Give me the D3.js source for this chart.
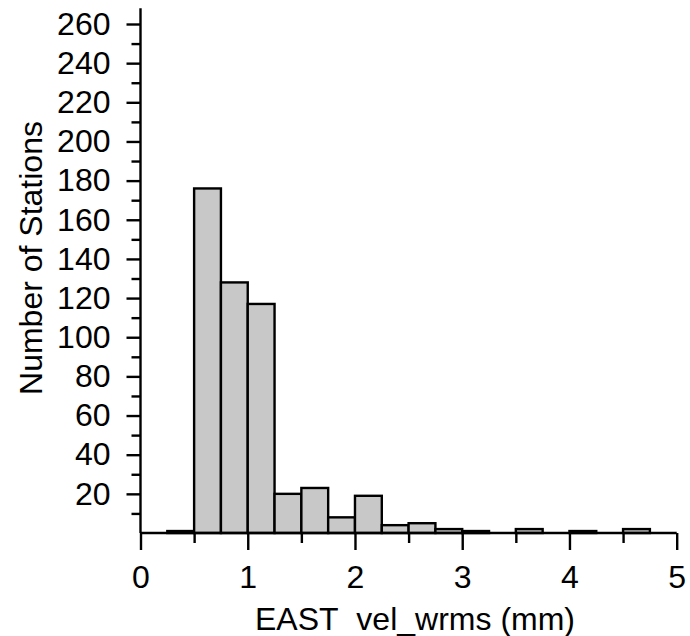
<!DOCTYPE html>
<html>
<head>
<meta charset="utf-8">
<script src="https://cdn.jsdelivr.net/npm/d3@7"></script>
<style>
  html, body { margin: 0; padding: 0; background: #fff; }
  svg { display: block; }
  text { font-family: "Liberation Sans", Arial, sans-serif; fill: #000; }
</style>
</head>
<body>
<svg id="chart" width="690" height="636"></svg>
<script>
// ---- data ----
const binStarts = [0.25, 0.5, 0.75, 1.0, 1.25, 1.5, 1.75, 2.0, 2.25, 2.5, 2.75, 3.0, 3.25, 3.5, 3.75, 4.0, 4.25, 4.5, 4.75];
const counts    = [1, 176, 128, 117, 20, 23, 8, 19, 4, 5, 2, 1, 0, 2, 0, 1, 0, 2, 0];
const binWidth = 0.25;
const xMajorTicks = [0, 1, 2, 3, 4, 5];
const xMinorTicks = [0.5, 1.5, 2.5, 3.5, 4.5];
const yMajorTicks = [20, 40, 60, 80, 100, 120, 140, 160, 180, 200, 220, 240, 260];
const yMinorTicks = [10, 30, 50, 70, 90, 110, 130, 150, 170, 190, 210, 230, 250];
const xTitle = "EAST\u00a0\u00a0vel_wrms (mm)";
const yTitle = "Number of Stations";

// ---- layout ----
const svg = d3.select("#chart");
const x = d3.scaleLinear().domain([0, 5]).range([140.5, 676.7]);
const y = d3.scaleLinear().domain([0, 260]).range([533, 24]);
const fontSize = 32;
const lineW = 2.4;

// bars
const bins = binStarts.map((s, i) => ({ x0: s, x1: s + binWidth, n: counts[i] })).filter(d => d.n > 0);
svg.append("g").selectAll("rect").data(bins).join("rect")
  .attr("x", d => x(d.x0))
  .attr("y", d => y(d.n))
  .attr("width", d => x(d.x1) - x(d.x0))
  .attr("height", d => y(0) - y(d.n))
  .attr("fill", "#c8c8c8")
  .attr("stroke", "#000")
  .attr("stroke-width", lineW);

function styleAxis(g) {
  g.select(".domain").remove();
  g.selectAll(".tick line").attr("stroke", "#000").attr("stroke-width", lineW);
  g.selectAll(".tick text").attr("font-size", fontSize).attr("fill", "#000")
    .attr("font-family", "Liberation Sans, Arial, sans-serif");
}

// y axis
svg.append("g").attr("transform", `translate(${x(0)},0)`)
  .call(d3.axisLeft(y).tickValues(yMinorTicks).tickSize(9).tickFormat(""))
  .call(styleAxis);
svg.append("g").attr("transform", `translate(${x(0)},0)`)
  .call(d3.axisLeft(y).tickValues(yMajorTicks).tickSize(14).tickPadding(16).tickFormat(d3.format("d")))
  .call(styleAxis);

// x axis
svg.append("g").attr("transform", `translate(0,${y(0)})`)
  .call(d3.axisBottom(x).tickValues(xMinorTicks).tickSize(10).tickFormat(""))
  .call(styleAxis);
svg.append("g").attr("transform", `translate(0,${y(0)})`)
  .call(d3.axisBottom(x).tickValues(xMajorTicks).tickSize(17).tickPadding(15).tickFormat(d3.format("d")))
  .call(styleAxis);

// axis lines
svg.append("line")
  .attr("x1", x(0)).attr("x2", x(0))
  .attr("y1", y(0)).attr("y2", y(268))
  .attr("stroke", "#000").attr("stroke-width", lineW);
svg.append("line")
  .attr("x1", x(0)).attr("x2", x(5))
  .attr("y1", y(0)).attr("y2", y(0))
  .attr("stroke", "#000").attr("stroke-width", lineW);

// titles
svg.append("text")
  .attr("x", 415).attr("y", 630)
  .attr("text-anchor", "middle")
  .attr("font-size", fontSize)
  .text(xTitle);
svg.append("text")
  .attr("transform", "translate(42,258) rotate(-90)")
  .attr("text-anchor", "middle")
  .attr("font-size", fontSize)
  .text(yTitle);
</script>
</body>
</html>
